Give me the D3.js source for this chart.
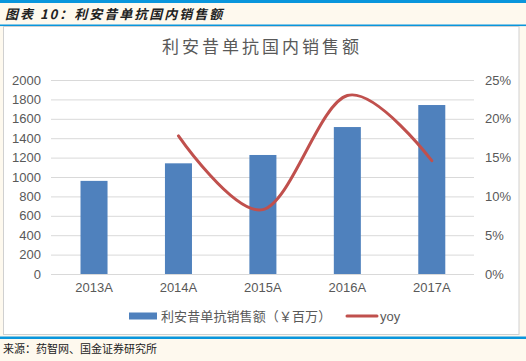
<!DOCTYPE html>
<html><head><meta charset="utf-8">
<script src="https://cdn.jsdelivr.net/npm/d3@7"></script>
<style>
html,body{margin:0;padding:0;background:#FEF9EE;}
svg{display:block;}
</style></head>
<body>
<script>
const categories = ["2013A","2014A","2015A","2016A","2017A"];
const sales = [960, 1141, 1227, 1515, 1742];
const yoyCats = ["2014A","2015A","2016A","2017A"];
const yoy = [0.178, 0.083, 0.230, 0.146];
const leftTicks = [0,200,400,600,800,1000,1200,1400,1600,1800,2000];
const rightTicks = [0,0.05,0.10,0.15,0.20,0.25];
const chartTitle = "利安昔单抗国内销售额";
const headerText = "图表 10：利安昔单抗国内销售额";
const sourceText = "来源：药智网、国金证券研究所";
const legendBar = "利安昔单抗销售额（￥百万）";
const legendLine = "yoy";

const W = 526, H = 361;
const svg = d3.select("body").append("svg").attr("width", W).attr("height", H);
const cjk = "'Noto Sans CJK SC', 'Noto Sans', sans-serif";
const latin = "'Liberation Sans', Arial, sans-serif";

svg.append("rect").attr("width", W).attr("height", H).attr("fill", "#FEF9EE");
svg.append("rect").attr("x",0).attr("y",0).attr("width",W).attr("height",3).attr("fill","#0A96DC");
svg.append("text").attr("x",5).attr("y",19).attr("font-family",cjk).attr("font-size",13)
  .attr("font-weight","bold").attr("font-style","italic").attr("fill","#222").attr("letter-spacing",2)
  .text(headerText);
svg.append("rect").attr("x",0).attr("y",24.5).attr("width",W).attr("height",1.6).attr("fill","#0A96DC");
svg.append("rect").attr("x",3.5).attr("y",26.5).attr("width",515.5).attr("height",308)
  .attr("fill","#fff").attr("stroke","#D0D0D0").attr("stroke-width",1);
svg.append("rect").attr("x",0).attr("y",336.5).attr("width",W).attr("height",2.5).attr("fill","#0A96DC");
svg.append("text").attr("x",3).attr("y",353).attr("font-family",cjk).attr("font-size",11)
  .attr("fill","#222").text(sourceText);

svg.append("text").attr("x",262).attr("y",53).attr("text-anchor","middle").attr("font-family",cjk)
  .attr("font-size",17).attr("letter-spacing",3).attr("fill","#595959").text(chartTitle);

const x = d3.scaleBand().domain(categories).range([51.8, 474]).paddingInner(0.68).paddingOuter(0.34);
const yL = d3.scaleLinear().domain([0,2000]).range([274, 80]);
const yR = d3.scaleLinear().domain([0,0.25]).range([274, 80]);

svg.append("g").selectAll("line").data(leftTicks.filter(d=>d>0)).join("line")
  .attr("x1",51).attr("x2",474).attr("y1",d=>yL(d)+0.5).attr("y2",d=>yL(d)+0.5)
  .attr("stroke","#D9D9D9").attr("stroke-width",1);

svg.append("g").selectAll("rect").data(sales).join("rect")
  .attr("x",(d,i)=>x(categories[i])).attr("width",x.bandwidth())
  .attr("y",d=>yL(d)).attr("height",d=>yL(0)-yL(d)).attr("fill","#4F81BD");

svg.append("line").attr("x1",51).attr("x2",474).attr("y1",274.5).attr("y2",274.5)
  .attr("stroke","#D9D9D9").attr("stroke-width",1);

const axL = svg.append("g").attr("transform","translate(51,0)")
  .call(d3.axisLeft(yL).tickValues(leftTicks).tickSize(0).tickPadding(10).tickFormat(d3.format("d")));
axL.select(".domain").remove();
axL.selectAll("text").attr("font-family",latin).attr("font-size",13).attr("fill","#595959");

const axR = svg.append("g").attr("transform","translate(474,0)")
  .call(d3.axisRight(yR).tickValues(rightTicks).tickSize(0).tickPadding(11).tickFormat(d3.format(".0%")));
axR.select(".domain").remove();
axR.selectAll("text").attr("font-family",latin).attr("font-size",13).attr("fill","#595959");

const axX = svg.append("g").attr("transform","translate(0,274)")
  .call(d3.axisBottom(x).tickSize(0).tickPadding(9));
axX.select(".domain").remove();
axX.selectAll("text").attr("font-family",latin).attr("font-size",13).attr("fill","#595959");

const line = d3.line().x((d,i)=>x(yoyCats[i])+x.bandwidth()/2).y(d=>yR(d)).curve(d3.curveCatmullRom.alpha(0));
svg.append("path").datum(yoy).attr("d",line).attr("fill","none").attr("stroke","#C0504D")
  .attr("stroke-width",3).attr("stroke-linecap","round");

svg.append("rect").attr("x",129).attr("y",312.5).attr("width",28).attr("height",7).attr("fill","#4F81BD");
svg.append("text").attr("x",161).attr("y",320.5).attr("font-family",cjk).attr("font-size",13)
  .attr("letter-spacing",0.1).attr("fill","#595959").text(legendBar);
svg.append("line").attr("x1",347).attr("x2",377).attr("y1",316).attr("y2",316)
  .attr("stroke","#C0504D").attr("stroke-width",3).attr("stroke-linecap","round");
svg.append("text").attr("x",380).attr("y",320.5).attr("font-family",latin).attr("font-size",13)
  .attr("fill","#595959").text(legendLine);
</script>
</body></html>
